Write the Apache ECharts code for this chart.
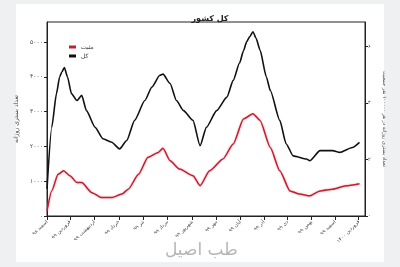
<!DOCTYPE html>
<html><head><meta charset="utf-8">
<script src="https://cdn.jsdelivr.net/npm/echarts@6/dist/echarts.min.js"></script>
<style>
html,body{margin:0;padding:0;background:#eef0f2;}
#wrap{position:absolute;left:16px;top:4px;width:368px;height:258px;background:#fff;}
#c{position:absolute;left:0;top:0;width:400px;height:267px;}
</style></head>
<body><div id="wrap"></div><div id="c"></div>
<script>
// days counted from 1 Esfand 1398
const monthStarts = [0, 29, 60, 91, 122, 153, 184, 215, 245, 275, 305, 335, 365, 395];
const monthLabels = ["اسفند ۹۸", "فروردین ۹۹", "اردیبهشت ۹۹", "خرداد ۹۹", "تیر ۹۹", "مرداد ۹۹", "شهریور ۹۹", "مهر ۹۹", "آبان ۹۹", "آذر ۹۹", "دی ۹۹", "بهمن ۹۹", "اسفند ۹۹", "فروردین ۱۴۰۰"];
const leftTicks = [0, 1000, 2000, 3000, 4000, 5000];
const rightTicks = [0, 2, 4, 6];

const totalDays = [0, 6, 12, 16, 19, 22, 26, 31, 38, 44, 50, 61, 71, 82, 92, 101, 111, 124, 133, 143, 147, 156, 164, 173, 185, 194, 202, 215, 228, 236, 244, 249, 253, 257, 261, 265, 270, 278, 283, 295, 303, 312, 329, 333, 346, 362, 371, 387, 396];
const totalValues = [780, 2550, 3520, 4000, 4150, 4270, 4000, 3520, 3320, 3470, 3030, 2550, 2220, 2120, 1930, 2170, 2750, 3320, 3710, 4050, 4080, 3810, 3320, 3030, 2750, 2020, 2550, 3030, 3420, 3900, 4400, 4750, 5010, 5160, 5300, 5110, 4770, 4000, 3610, 2750, 2080, 1730, 1640, 1590, 1880, 1880, 1830, 1970, 2120];

const positiveDays = [0, 6, 14, 21, 29, 38, 44, 57, 69, 82, 95, 103, 116, 128, 141, 147, 156, 168, 185, 194, 206, 223, 236, 249, 261, 270, 283, 295, 308, 320, 333, 346, 362, 379, 396];
const positiveValues = [150, 720, 1200, 1300, 1160, 960, 960, 670, 530, 530, 630, 770, 1200, 1690, 1830, 1950, 1590, 1350, 1160, 870, 1300, 1640, 2070, 2790, 2940, 2750, 1970, 1300, 720, 630, 580, 720, 770, 870, 930];

const perCapitaDivisor = 813.5; // hospitalizations per 1 unit per 100k
const leftMax = 5580;

const fa = s => String(s).replace(/[0-9]/g, d => '۰۱۲۳۴۵۶۷۸۹'[d]);
const pair = (xs, ys) => xs.map((x, i) => [x, ys[i]]);
const F = 'DejaVu Sans';

const chart = echarts.init(document.getElementById('c'), null, {renderer: 'canvas'});
chart.setOption({
  animation: false,
  backgroundColor: 'transparent',
  title: {text: 'کل کشور', left: 205, top: 10, textAlign: 'center',
    textStyle: {fontFamily: F, fontSize: 8, fontWeight: 'bold', color: '#222'}},
  grid: {left: 47, right: 35, top: 22, bottom: 51, show: true, borderColor: '#222', borderWidth: 1, backgroundColor: 'transparent'},
  legend: {orient: 'vertical', left: 64, top: 39, itemWidth: 7, itemHeight: 3, itemGap: 3,
    icon: 'rect', textStyle: {fontFamily: F, fontSize: 6, color: '#333', padding: [0, 0, 0, 0]},
    data: ['مثبت', 'کل']},
  xAxis: {type: 'value', min: 0, max: 403,
    axisLine: {lineStyle: {color: '#222', width: 1}},
    axisTick: {show: true, length: 4, customValues: monthStarts, lineStyle: {color: '#222'}},
    splitLine: {show: false},
    axisLabel: {customValues: monthStarts, rotate: 45, fontSize: 5, fontFamily: F, color: '#444', margin: 5,
      formatter: v => monthLabels[monthStarts.indexOf(v)] || ''}},
  yAxis: [
    {type: 'value', min: 0, max: leftMax, position: 'left',
      name: 'تعداد بستری روزانه', nameLocation: 'middle', nameGap: 20, nameRotate: 90,
      nameTextStyle: {fontFamily: F, fontSize: 6, color: '#444'},
      axisLine: {show: true, lineStyle: {color: '#222'}},
      axisTick: {show: true, length: 3, customValues: leftTicks, lineStyle: {color: '#222'}},
      splitLine: {show: false},
      axisLabel: {customValues: leftTicks, fontSize: 6, fontFamily: F, color: '#444', margin: 4, formatter: v => fa(v)}},
    {type: 'value', min: 0, max: leftMax / perCapitaDivisor, position: 'right',
      name: 'تعداد بستری روزانه در هر ۱۰۰۰۰۰ نفر جمعیت', nameLocation: 'middle', nameGap: 10, nameRotate: -90,
      nameTextStyle: {fontFamily: F, fontSize: 5, color: '#444'},
      axisLine: {show: true, lineStyle: {color: '#222'}},
      axisTick: {show: true, length: 3, customValues: rightTicks, lineStyle: {color: '#222'}},
      splitLine: {show: false},
      axisLabel: {customValues: rightTicks, fontSize: 5, fontFamily: F, color: '#444', margin: 3, formatter: v => fa(v)}}
  ],
  graphic: [{type: 'text', left: 165, top: 242, style: {text: 'طب اصیل', fontFamily: F, fontSize: 17, fill: '#b5b5b5'}}],
  series: [
    {name: 'کل', type: 'line', data: pair(totalDays, totalValues), showSymbol: false, smooth: 0.2, smoothMonotone: 'x',
      color: '#111', lineStyle: {color: '#111', width: 1.6}, z: 3},
    {name: 'مثبت', type: 'line', data: pair(positiveDays, positiveValues), showSymbol: false, smooth: 0.2, smoothMonotone: 'x',
      color: '#c0202f', lineStyle: {color: '#c0202f', width: 1.5, shadowColor: 'rgba(230,110,130,0.7)', shadowBlur: 2}, z: 2}
  ]
});
</script></body></html>
